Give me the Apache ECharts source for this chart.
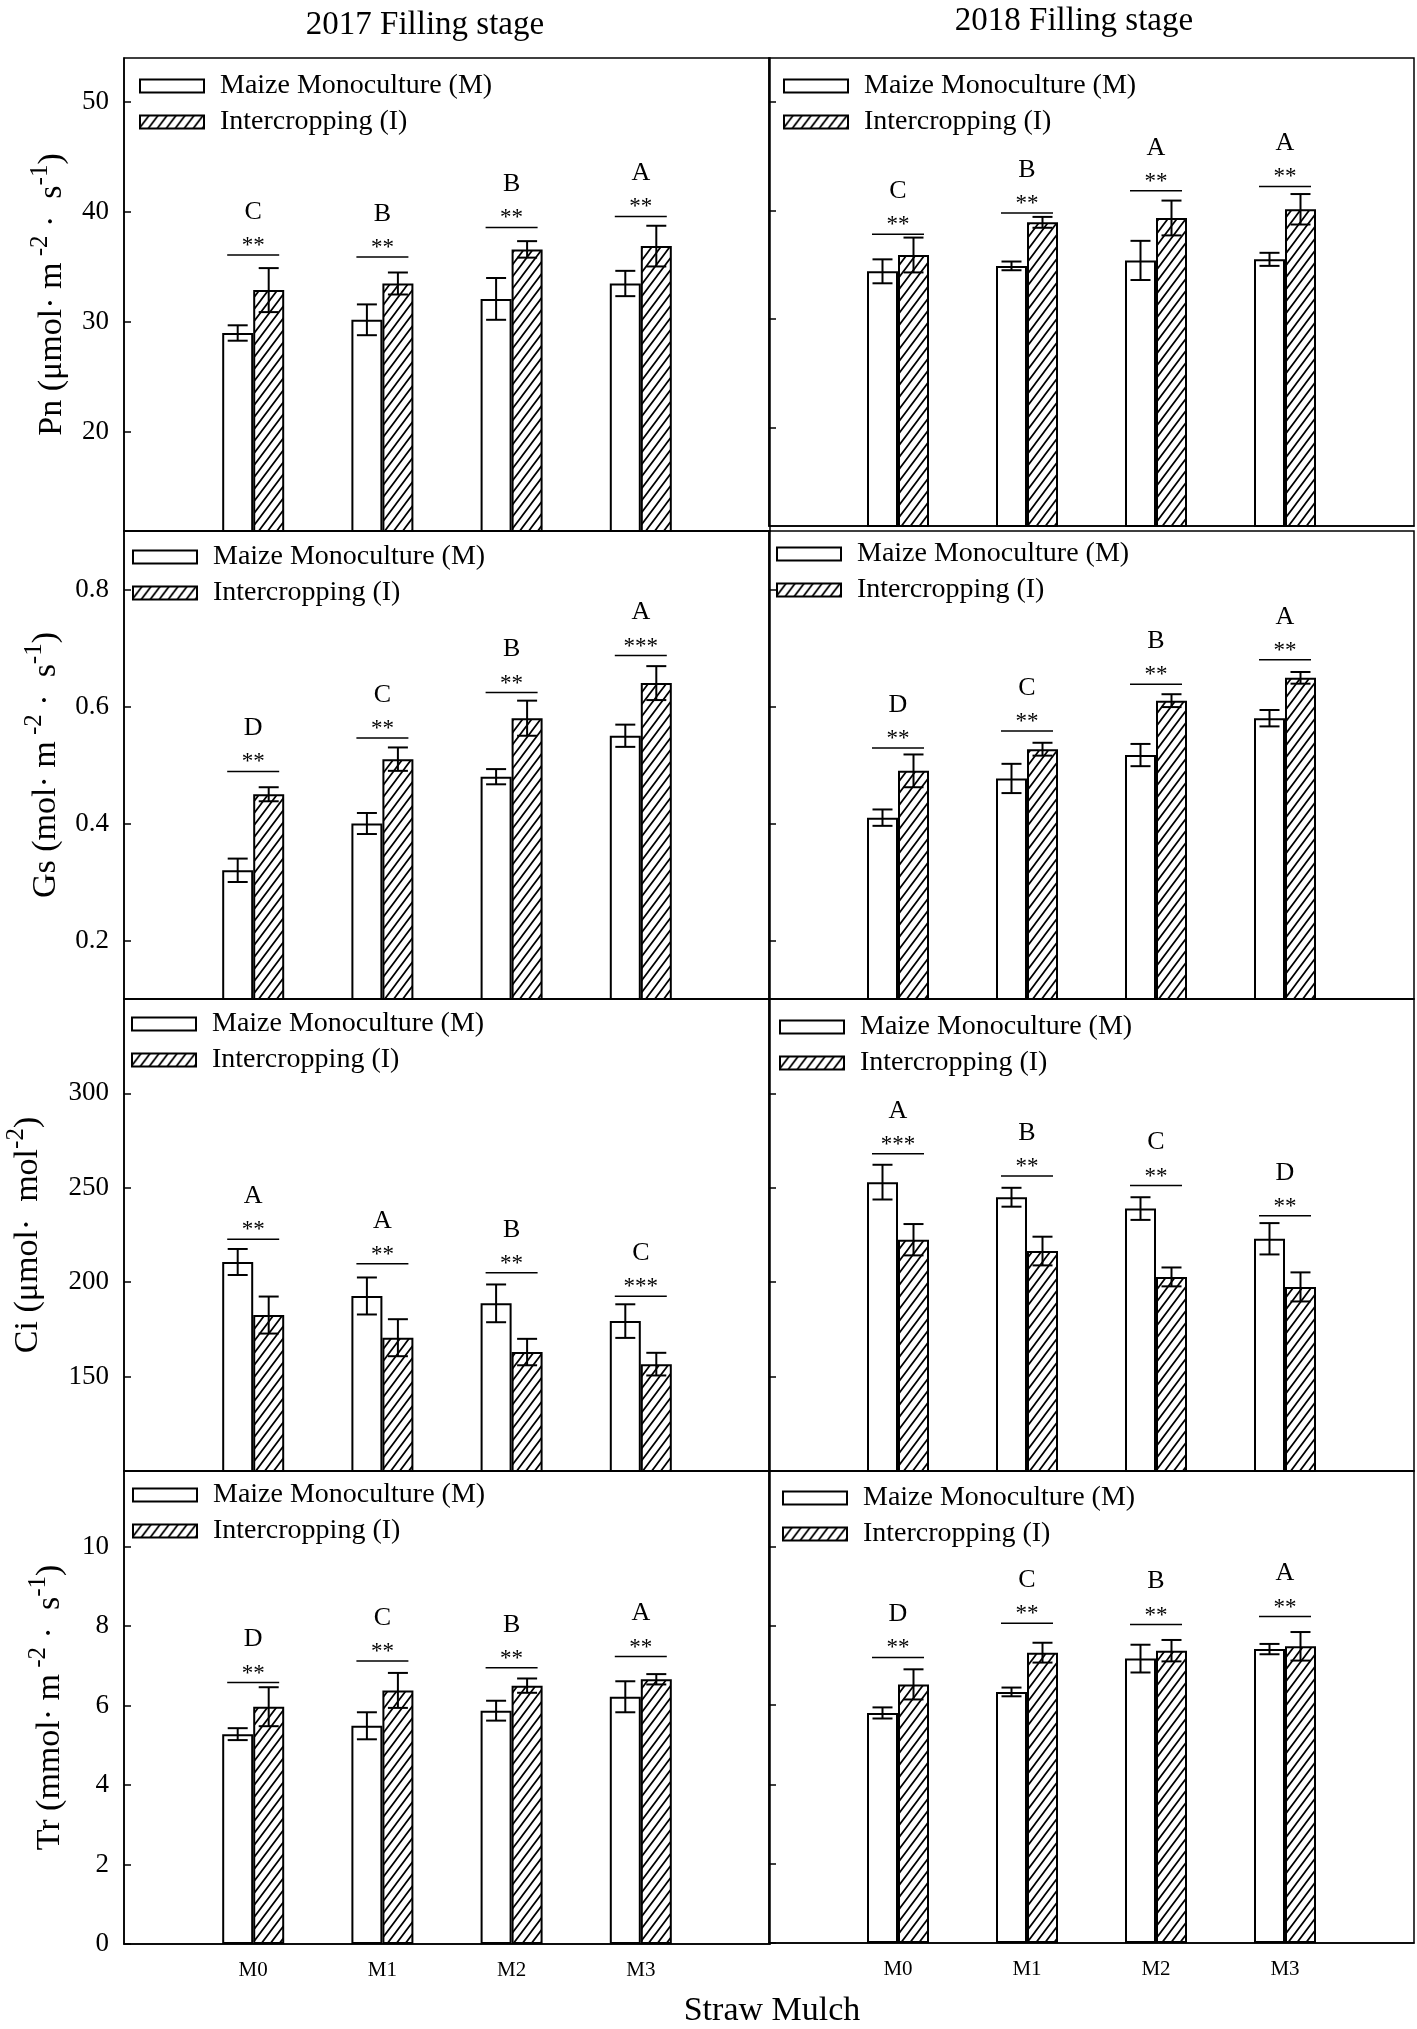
<!DOCTYPE html>
<html><head><meta charset="utf-8">
<script src="https://cdn.jsdelivr.net/npm/echarts@6/dist/echarts.min.js"></script>
<style>html,body{margin:0;padding:0;background:#fff}#c{width:1417px;height:2029px}</style>
</head><body><div id="c"></div>
<script>
// ---------------- DATA ----------------
const categories = ['M0', 'M1', 'M2', 'M3'];
const seriesNames = ['Maize Monoculture (M)', 'Intercropping (I)'];
const yearTitles = ['2017 Filling stage', '2018 Filling stage'];
const xAxisTitle = 'Straw Mulch';

// Pn 2017
const pn17M = [29.0, 30.2, 32.1, 33.5];
const pn17Mse = [0.7, 1.4, 1.9, 1.15];
const pn17I = [32.9, 33.5, 36.6, 36.9];
const pn17Ise = [2.0, 1.0, 0.75, 1.85];
const pn17SigLevel = [36.1, 35.9, 38.6, 39.6];
const pn17Stars = ['**', '**', '**', '**'];
const pn17Letters = ['C', 'B', 'B', 'A'];
// Pn 2018
const pn18M = [34.4, 34.9, 35.4, 35.5];
const pn18Mse = [1.1, 0.4, 1.8, 0.6];
const pn18I = [35.9, 38.9, 39.3, 40.1];
const pn18Ise = [1.6, 0.5, 1.6, 1.4];
const pn18SigLevel = [37.8, 39.75, 41.8, 42.2];
const pn18Stars = ['**', '**', '**', '**'];
const pn18Letters = ['C', 'B', 'A', 'A'];
// Gs 2017
const gs17M = [0.32, 0.40, 0.48, 0.55];
const gs17Mse = [0.02, 0.018, 0.013, 0.019];
const gs17I = [0.45, 0.51, 0.58, 0.64];
const gs17Ise = [0.012, 0.02, 0.03, 0.029];
const gs17SigLevel = [0.489, 0.546, 0.624, 0.687];
const gs17Stars = ['**', '**', '**', '***'];
const gs17Letters = ['D', 'C', 'B', 'A'];
// Gs 2018
const gs18M = [0.41, 0.477, 0.517, 0.58];
const gs18Mse = [0.014, 0.025, 0.019, 0.014];
const gs18I = [0.49, 0.527, 0.61, 0.649];
const gs18Ise = [0.028, 0.011, 0.011, 0.01];
const gs18SigLevel = [0.529, 0.558, 0.638, 0.68];
const gs18Stars = ['**', '**', '**', '**'];
const gs18Letters = ['D', 'C', 'B', 'A'];
// Ci 2017
const ci17M = [210.7, 192.7, 188.8, 179.4];
const ci17Mse = [6.9, 9.8, 10, 8.9];
const ci17I = [182.6, 170.6, 163, 156.6];
const ci17Ise = [9.8, 9.8, 7, 6];
const ci17SigLevel = [222.8, 209.8, 205, 192.5];
const ci17Stars = ['**', '**', '**', '***'];
const ci17Letters = ['A', 'A', 'B', 'C'];
// Ci 2018
const ci18M = [253, 245, 239, 223];
const ci18Mse = [9.2, 5, 6, 8.3];
const ci18I = [222.5, 216.5, 202.8, 197.5];
const ci18Ise = [8.3, 7.6, 5, 7.7];
const ci18SigLevel = [268, 256.3, 251.2, 235.2];
const ci18Stars = ['***', '**', '**', '**'];
const ci18Letters = ['A', 'B', 'C', 'D'];
// Tr 2017
const tr17M = [5.28, 5.49, 5.87, 6.22];
const tr17Mse = [0.15, 0.34, 0.25, 0.39];
const tr17I = [5.97, 6.38, 6.5, 6.66];
const tr17Ise = [0.49, 0.44, 0.18, 0.13];
const tr17SigLevel = [6.58, 7.12, 6.95, 7.23];
const tr17Stars = ['**', '**', '**', '**'];
const tr17Letters = ['D', 'C', 'B', 'A'];
// Tr 2018
const tr18M = [5.8, 6.33, 7.17, 7.41];
const tr18Mse = [0.14, 0.11, 0.35, 0.13];
const tr18I = [6.52, 7.32, 7.37, 7.48];
const tr18Ise = [0.38, 0.25, 0.27, 0.36];
const tr18SigLevel = [7.2, 8.06, 8.03, 8.23];
const tr18Stars = ['**', '**', '**', '**'];
const tr18Letters = ['D', 'C', 'B', 'A'];

// axis ranges and tick labels
const pnRange = [11, 54];   const pnTicks = [20, 30, 40, 50];
const gsRange = [0.1, 0.9]; const gsTicks = [0.2, 0.4, 0.6, 0.8];
const ciRange = [100, 350]; const ciTicks = [150, 200, 250, 300];
const trRange = [0, 11.9];  const trTicks = [0, 2, 4, 6, 8, 10];

const pnName = '{t|Pn (μmol· m}{s| -2}{t| ·  s}{s|-1}{t|)}';
const gsName = '{t|Gs (mol· m}{s| -2}{t| ·  s}{s|-1}{t|)}';
const ciName = '{t|Ci (μmol·  mol}{s|-2}{t|)}';
const trName = '{t|Tr (mmol· m}{s| -2}{t| ·  s}{s|-1}{t|)}';

// ---------------- LAYOUT / STYLE ----------------
const FONT = '"Liberation Serif", "Times New Roman", serif';
const BAR_W = 31;
const cols = [{ left: 124, width: 646 }, { left: 769, width: 645 }];
const rows = [
  { top: 58, h: [473, 468], range: pnRange, ticks: pnTicks, name: pnName, gap: 48,
    sets: [[pn17M, pn17Mse, pn17I, pn17Ise, pn17SigLevel, pn17Stars, pn17Letters],
           [pn18M, pn18Mse, pn18I, pn18Ise, pn18SigLevel, pn18Stars, pn18Letters]],
    leg: [[15, 13], [14, 13]] },
  { top: 531, h: [468, 468], range: gsRange, ticks: gsTicks, name: gsName, gap: 54,
    sets: [[gs17M, gs17Mse, gs17I, gs17Ise, gs17SigLevel, gs17Stars, gs17Letters],
           [gs18M, gs18Mse, gs18I, gs18Ise, gs18SigLevel, gs18Stars, gs18Letters]],
    leg: [[8, 11], [7, 8]] },
  { top: 999, h: [472, 472], range: ciRange, ticks: ciTicks, name: ciName, gap: 72,
    sets: [[ci17M, ci17Mse, ci17I, ci17Ise, ci17SigLevel, ci17Stars, ci17Letters],
           [ci18M, ci18Mse, ci18I, ci18Ise, ci18SigLevel, ci18Stars, ci18Letters]],
    leg: [[7, 10], [10, 13]] },
  { top: 1471, h: [473, 472], range: trRange, ticks: trTicks, name: trName, gap: 50,
    sets: [[tr17M, tr17Mse, tr17I, tr17Ise, tr17SigLevel, tr17Stars, tr17Letters],
           [tr18M, tr18Mse, tr18I, tr18Ise, tr18SigLevel, tr18Stars, tr18Letters]],
    leg: [[8, 9], [13, 12]] }
];

function makeHatch() {
  const w = 9, h = 12;
  const c = document.createElement('canvas');
  c.width = w; c.height = h;
  const g = c.getContext('2d');
  g.fillStyle = '#fff'; g.fillRect(0, 0, w, h);
  g.strokeStyle = '#000'; g.lineWidth = 1.7;
  g.beginPath();
  g.moveTo(-1, h + h / w); g.lineTo(w + 1, -h / w);
  g.moveTo(-w / 2 - 1, h / 2 + h / w); g.lineTo(w / 2 + 1, -h / 2 - h / w);
  g.moveTo(w / 2 - 1, 1.5 * h + h / w); g.lineTo(1.5 * w + 1, h / 2 - h / w);
  g.stroke();
  return c;
}
const hatch = { image: makeHatch(), repeat: 'repeat' };

const xData = ['L'].concat(categories, ['R']);
const pad = arr => ['-'].concat(arr, ['-']);

function errRender(side) {
  return function (params, api) {
    const idx = api.value(0), v = api.value(1), e = api.value(2);
    const c = api.coord([idx, v]);
    const x = c[0] + side * BAR_W / 2;
    const yT = api.coord([idx, v + e])[1];
    const yB = api.coord([idx, v - e])[1];
    const hw = 10;
    const st = { stroke: '#000', lineWidth: 2 };
    return { type: 'group', children: [
      { type: 'line', shape: { x1: x, y1: yT, x2: x, y2: yB }, style: st },
      { type: 'line', shape: { x1: x - hw, y1: yT, x2: x + hw, y2: yT }, style: st },
      { type: 'line', shape: { x1: x - hw, y1: yB, x2: x + hw, y2: yB }, style: st }
    ] };
  };
}
function sigRender(stars, letters) {
  return function (params, api) {
    const idx = api.value(0), lv = api.value(1);
    const c = api.coord([idx, lv]);
    const x = c[0], y = c[1];
    return { type: 'group', children: [
      { type: 'line', shape: { x1: x - 26, y1: y, x2: x + 26, y2: y }, style: { stroke: '#000', lineWidth: 1.5 } },
      { type: 'text', style: { x: x, y: y - 9, text: stars[params.dataIndex], font: '23px ' + FONT, fill: '#000', textAlign: 'center', textVerticalAlign: 'middle' } },
      { type: 'text', style: { x: x, y: y - 43, text: letters[params.dataIndex], font: '26px ' + FONT, fill: '#000', textAlign: 'center', textVerticalAlign: 'middle' } }
    ] };
  };
}

const grids = [], xAxes = [], yAxes = [], series = [], legends = [];
rows.forEach((row, r) => {
  cols.forEach((col, ci) => {
    const gi = grids.length;
    const isLeft = ci === 0, isBottom = r === rows.length - 1;
    grids.push({ left: col.left, top: row.top, width: col.width, height: row.h[ci],
      show: true, borderColor: '#000', borderWidth: 1.5, backgroundColor: 'transparent' });
    xAxes.push({ type: 'category', gridIndex: gi, data: xData, boundaryGap: false,
      axisLine: { show: true, lineStyle: { color: '#000', width: 1.5 } },
      axisTick: { show: false }, splitLine: { show: false },
      axisLabel: { show: isBottom, interval: 0, margin: 16, color: '#000', fontFamily: FONT, fontSize: 21,
        formatter: v => categories.indexOf(v) >= 0 ? v : '' } });
    yAxes.push({ type: 'value', gridIndex: gi, min: row.range[0], max: row.range[1],
      axisLine: { show: true, lineStyle: { color: '#000', width: 1.5 } },
      axisTick: { show: true, inside: true, length: 7, customValues: row.ticks, lineStyle: { color: '#000', width: 1.5 } },
      axisLabel: { show: isLeft, customValues: row.ticks, margin: 15, color: '#000', fontFamily: FONT, fontSize: 27 },
      splitLine: { show: false },
      name: isLeft ? row.name : '', nameLocation: 'middle', nameRotate: 90, nameGap: row.gap,
      nameTextStyle: { color: '#000', fontFamily: FONT,
        rich: { t: { fontSize: 34, fontFamily: FONT, color: '#000', lineHeight: 48, verticalAlign: 'middle' },
                s: { fontSize: 25, fontFamily: FONT, color: '#000', lineHeight: 25, verticalAlign: 'top' } } } });
    const d = row.sets[ci];
    const [mV, mE, iV, iE, sigLv, stars, letters] = d;
    series.push({ type: 'bar', name: seriesNames[0], xAxisIndex: gi, yAxisIndex: gi, data: pad(mV),
      barWidth: BAR_W, barGap: '0%', silent: true,
      itemStyle: { color: '#fff', borderColor: '#000', borderWidth: 2 } });
    series.push({ type: 'bar', name: seriesNames[1], xAxisIndex: gi, yAxisIndex: gi, data: pad(iV),
      barWidth: BAR_W, barGap: '0%', silent: true,
      itemStyle: { color: hatch, borderColor: '#000', borderWidth: 2 } });
    series.push({ type: 'custom', name: 'errM' + gi, xAxisIndex: gi, yAxisIndex: gi, z: 5, silent: true,
      renderItem: errRender(-1), data: mV.map((v, k) => [k + 1, v, mE[k]]) });
    series.push({ type: 'custom', name: 'errI' + gi, xAxisIndex: gi, yAxisIndex: gi, z: 5, silent: true,
      renderItem: errRender(1), data: iV.map((v, k) => [k + 1, v, iE[k]]) });
    series.push({ type: 'custom', name: 'sig' + gi, xAxisIndex: gi, yAxisIndex: gi, z: 5, silent: true, clip: false,
      renderItem: sigRender(stars, letters), data: sigLv.map((v, k) => [k + 1, v]) });
    legends.push({ data: seriesNames, orient: 'vertical', left: col.left + row.leg[ci][0], top: row.top + row.leg[ci][1],
      padding: 0, itemWidth: 64, itemHeight: 13, itemGap: 6, icon: 'rect', selectedMode: false,
      textStyle: { fontFamily: FONT, fontSize: 28, color: '#000', lineHeight: 30, padding: [0, 0, 0, 11] } });
  });
});

const chart = echarts.init(document.getElementById('c'), null, { renderer: 'canvas' });
chart.setOption({
  animation: false,
  backgroundColor: '#fff',
  title: [
    { text: yearTitles[0], left: 420, top: 4, textAlign: 'center', textStyle: { fontFamily: FONT, fontSize: 33, fontWeight: 'normal', color: '#000' } },
    { text: yearTitles[1], left: 1069, top: 0, textAlign: 'center', textStyle: { fontFamily: FONT, fontSize: 33, fontWeight: 'normal', color: '#000' } },
    { text: xAxisTitle, left: 767, top: 1989, textAlign: 'center', textStyle: { fontFamily: FONT, fontSize: 34, fontWeight: 'normal', color: '#000' } }
  ],
  legend: legends,
  grid: grids,
  xAxis: xAxes,
  yAxis: yAxes,
  series: series
});
</script></body></html>
